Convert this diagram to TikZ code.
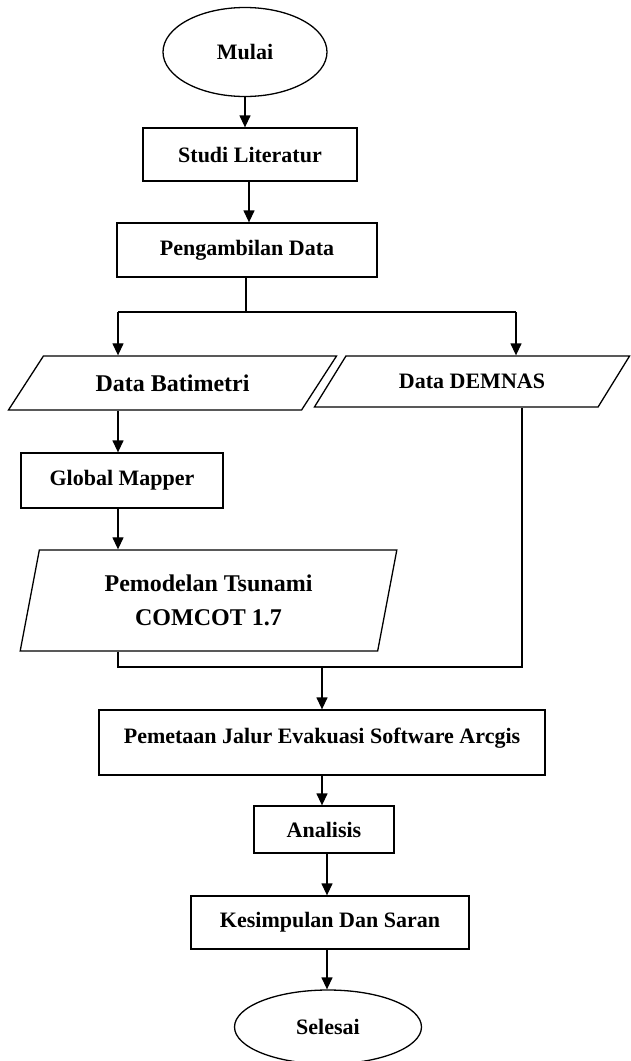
\documentclass[tikz,border=0pt]{standalone}
\usepackage{fontspec}
\setmainfont{Liberation Serif}
\usetikzlibrary{arrows.meta,shapes.geometric}

\begin{document}
\begin{tikzpicture}[
        x=1pt, y=-1pt,
        every node/.style={font=\bfseries\fontsize{22}{26}\selectfont},
        TM/.style={draw, ellipse, line width=1.3pt, inner sep=0pt,
            align=center},
        PR/.style={draw, rectangle, line width=1.3pt, inner sep=0pt,
            align=center},
        IO/.style={draw, trapezium, trapezium stretches=true,
            line width=1.3pt, inner sep=0pt, align=center},
        arr/.style={-{Triangle[length=12pt,width=11pt]}, line width=1.3pt},
        ln/.style={line width=1.3pt},
      ]
      \useasboundingbox (0,0) rectangle (631,1061);

      % Main nodes
      \node[TM, minimum width=164pt, minimum height=89pt] (mulai) at (245,52) {Mulai};
      \node[PR, minimum width=214pt, minimum height=53pt] (studi) at (250,154.5) {Studi Literatur};
      \node[PR, minimum width=260pt, minimum height=54pt] (ambil) at (247,250) {Pengambilan Data};

      \node[IO, trapezium left angle=39, trapezium right angle=141,
        minimum width=329pt, minimum height=54pt,
        font=\bfseries\fontsize{24}{28}\selectfont] (bat) at (172.5,383) {Data Batimetri};
      \node[IO, trapezium left angle=39, trapezium right angle=141,
        minimum width=316pt, minimum height=51pt] (dem) at (472,381.5) {Data DEMNAS};

      \node[PR, minimum width=202pt, minimum height=55pt] (gm) at (122,480.5) {Global Mapper};
      \node[IO, trapezium left angle=77, trapezium right angle=103,
        minimum width=377pt, minimum height=101pt,
        font=\bfseries\fontsize{24}{34}\selectfont] (tsu) at (208.5,600.5) {Pemodelan Tsunami\\COMCOT 1.7};

      \node[PR, minimum width=446pt, minimum height=65pt, text depth=14pt] (peta) at (322,742.5) {Pemetaan Jalur Evakuasi Software Arcgis};
      \node[PR, minimum width=140pt, minimum height=47pt] (anal) at (324,829.5) {Analisis};
      \node[PR, minimum width=278pt, minimum height=53pt] (simp) at (330,922.5) {Kesimpulan Dan Saran};
      \node[TM, minimum width=187pt, minimum height=74pt] (akhir) at (328,1027) {Selesai};

      % Branch helper coordinates
      \coordinate (split) at (246,312);
      \coordinate (brL) at (118,312);
      \coordinate (brR) at (516,312);
      \coordinate (joinL) at (118,667);
      \coordinate (joinR) at (522,667);

      % Arrows
      \draw[arr] (mulai.south) -- (mulai.south |- studi.north);
      \draw[arr] (ambil.north -| 249,0) ++(0,-42) -- (ambil.north -| 249,0);
      \draw[ln] (split |- ambil.south) -- (split);
      \draw[ln] (brL) -- (brR);
      \draw[arr] (brL) -- (brL |- bat.north);
      \draw[arr] (brR) -- (brR |- dem.north);

      \draw[arr] (brL |- bat.south) -- (brL |- gm.north);
      \draw[arr] (brL |- gm.south) -- (brL |- tsu.north);

      \draw[ln] (joinL |- tsu.south) -- (joinL) -- (joinR) -- (joinR |- dem.south);
      \draw[arr] (peta.north |- joinL) -- (peta.north);

      \draw[arr] (peta.south) -- (peta.south |- anal.north);
      \draw[arr] (simp.north -| 327,0) ++(0,-43) -- (simp.north -| 327,0);
      \draw[arr] (simp.south -| 327,0) -- (akhir.north -| 327,0);

    \end{tikzpicture}
\end{document}
